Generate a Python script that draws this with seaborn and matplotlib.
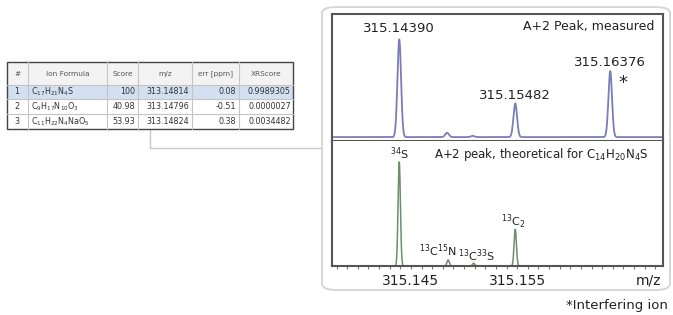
import numpy as np
import pandas as pd
import matplotlib
matplotlib.use("Agg")
import matplotlib.pyplot as plt
from matplotlib.patches import Rectangle, FancyBboxPatch
from matplotlib.lines import Line2D
import seaborn as sns

sns.set_theme(style="white")
plt.rcParams['font.family'] = ['DejaVu Sans']

# ---------------- data ----------------
meas_mz = [315.14390, 315.1484, 315.1508, 315.15482, 315.16376]
meas_int = [100, 4.4, 1.3, 34.5, 67.6]
meas_labels = ["315.14390", "315.15482", "315.16376"]
meas_label_mz = [315.14390, 315.15482, 315.16376]

theo_mz = [315.14390, 315.1485, 315.1509, 315.15482]
theo_int = [100, 5.8, 2.6, 35.2]
theo_labels = [r"$^{34}$S", r"$^{13}$C$^{15}$N", r"$^{13}$C$^{33}$S", r"$^{13}$C$_2$"]

xticks = [315.145, 315.155]
xtick_labels = ["315.145", "315.155"]

tbl_cols = ["#", "Ion Formula", "Score", "m/z", "err [ppm]", "XRScore"]
tbl_idx = ["1", "2", "3"]
tbl_formula = [r"C$_{17}$H$_{21}$N$_4$S", r"C$_9$H$_{17}$N$_{10}$O$_3$", r"C$_{11}$H$_{22}$N$_4$NaO$_5$"]
tbl_score = ["100", "40.98", "53.93"]
tbl_mz = ["313.14814", "313.14796", "313.14824"]
tbl_err = ["0.08", "-0.51", "0.38"]
tbl_xr = ["0.9989305", "0.0000027", "0.0034482"]

# ---------------- figure ----------------
W, H = 673, 315
fig = plt.figure(figsize=(W / 100, H / 100), dpi=100)
fig.patch.set_facecolor("white")

def fx(px):
    return px / W

def fy(py):
    return 1 - py / H

XMIN, XMAX = 315.13754, 315.16873

# outer rounded frame
frame = FancyBboxPatch((fx(326), fy(288)), fx(340), (288 - 9) / H,
                       boxstyle="round,pad=0.006,rounding_size=0.02",
                       transform=fig.transFigure, facecolor="none",
                       edgecolor="#d4d4d4", linewidth=1.3, zorder=-10)
fig.patches.append(frame)

# connector line
fig.add_artist(Line2D([fx(150), fx(150), fx(322)], [fy(130), fy(148), fy(148)],
                      transform=fig.transFigure, color="#c8c8c8", linewidth=1.0,
                      zorder=-10))

grid = np.linspace(XMIN, XMAX, 3000)

def profile(centers, heights, sigma):
    y = np.zeros_like(grid)
    for c, h in zip(centers, heights):
        y += h * np.exp(-0.5 * ((grid - c) / sigma) ** 2)
    return y

# top panel (measured)
ax1 = fig.add_axes([fx(331.7), fy(141), fx(663 - 331.7), 127 / H])
ym = profile(meas_mz, meas_int, 0.00017)
sns.lineplot(x=grid, y=ym, ax=ax1, color="#7a7db8", linewidth=1.3, estimator=None)
ax1.set_xlim(XMIN, XMAX)
ax1.set_ylim(-4, 126)
ax1.set_xticks([])
ax1.set_yticks([])
for s in ax1.spines.values():
    s.set_color("#555555")
    s.set_linewidth(1.5)
lab_y = [111, 43, 76]
for lab, m, yy in zip(meas_labels, meas_label_mz, lab_y):
    ax1.text(m, yy, lab, ha="center", va="center", fontsize=9.5, color="#222222")
ax1.text(0.975, 0.9, "A+2 Peak, measured", transform=ax1.transAxes,
         ha="right", va="center", fontsize=9, color="#222222")
ax1.text(315.1650, 55, "*", ha="center", va="center", fontsize=13, color="#222222")

# bottom panel (theoretical)
ax2 = fig.add_axes([fx(331.7), fy(266), fx(663 - 331.7), 125 / H])
yt = profile(theo_mz, theo_int, 0.00011)
sns.lineplot(x=grid, y=yt, ax=ax2, color="#6c8f6c", linewidth=1.1, estimator=None)
ax2.set_xlim(XMIN, XMAX)
ax2.set_ylim(0, 120)
ax2.set_yticks([])
ax2.set_xticks(xticks)
ax2.set_xticklabels(xtick_labels, fontsize=10, color="#222222")
ax2.set_xticks(np.arange(315.138, 315.1687, 0.001), minor=True)
ax2.tick_params(axis="x", which="both", direction="out", length=2.5, width=0.8,
                color="#777777", bottom=True, pad=3)
ax2.spines["top"].set_visible(False)
for k in ["left", "right", "bottom"]:
    ax2.spines[k].set_color("#555555")
    ax2.spines[k].set_linewidth(1.5)
ax2.text(0.955, 0.89, r"A+2 peak, theoretical for C$_{14}$H$_{20}$N$_4$S",
         transform=ax2.transAxes, ha="right", va="center", fontsize=8.5, color="#222222")
theo_lab_xy = [(315.1439, 108), (315.1475, 15), (315.1512, 10), (315.1546, 42)]
for lab, (xx, yy) in zip(theo_labels, theo_lab_xy):
    ax2.text(xx, yy, lab, ha="center", va="center", fontsize=8, color="#222222")
ax2.text(0.955, -0.115, "m/z", transform=ax2.transAxes, ha="center", va="center",
         fontsize=10, color="#222222")

fig.text(fx(668), fy(305), "*Interfering ion", ha="right", va="center",
         fontsize=9.5, color="#222222")

# ---------------- table ----------------
col_edges = [7, 28, 107, 138, 192, 239, 293]
row_edges = [62, 85, 99, 114, 129]
tax = fig.add_axes([fx(0), fy(140), fx(300), 140 / H], facecolor="none")
tax.set_xlim(0, 300)
tax.set_ylim(140, 0)
tax.axis("off")
tax.add_patch(Rectangle((col_edges[0], row_edges[0]), col_edges[-1] - col_edges[0],
                        row_edges[1] - row_edges[0], facecolor="#f3f3f3", edgecolor="none"))
tax.add_patch(Rectangle((col_edges[0], row_edges[1]), col_edges[-1] - col_edges[0],
                        row_edges[2] - row_edges[1], facecolor="#d3e0f1", edgecolor="none"))
for xe in col_edges[1:-1]:
    tax.plot([xe, xe], [row_edges[0], row_edges[-1]], color="#c4c4c4", lw=0.8)
for ye in row_edges[1:-1]:
    tax.plot([col_edges[0], col_edges[-1]], [ye, ye], color="#c4c4c4", lw=0.8)
tax.add_patch(Rectangle((col_edges[0], row_edges[0]), col_edges[-1] - col_edges[0],
                        row_edges[-1] - row_edges[0], facecolor="none",
                        edgecolor="#444444", lw=1.0))
for i, c in enumerate(tbl_cols):
    tax.text((col_edges[i] + col_edges[i + 1]) / 2, (row_edges[0] + row_edges[1]) / 2 + 0.5,
             c, ha="center", va="center", fontsize=5.3, color="#555555")
rows = list(zip(tbl_idx, tbl_formula, tbl_score, tbl_mz, tbl_err, tbl_xr))
for r, vals in enumerate(rows):
    yc = (row_edges[r + 1] + row_edges[r + 2]) / 2
    tax.text(17, yc, vals[0], ha="center", va="center", fontsize=5.8, color="#333333")
    tax.text(31, yc, vals[1], ha="left", va="center", fontsize=5.8, color="#333333")
    tax.text(135, yc, vals[2], ha="right", va="center", fontsize=5.8, color="#333333")
    tax.text(189, yc, vals[3], ha="right", va="center", fontsize=5.8, color="#333333")
    tax.text(236, yc, vals[4], ha="right", va="center", fontsize=5.8, color="#333333")
    tax.text(291, yc, vals[5], ha="right", va="center", fontsize=5.8, color="#333333")

fig.savefig("out.png", dpi=100, facecolor="white")
